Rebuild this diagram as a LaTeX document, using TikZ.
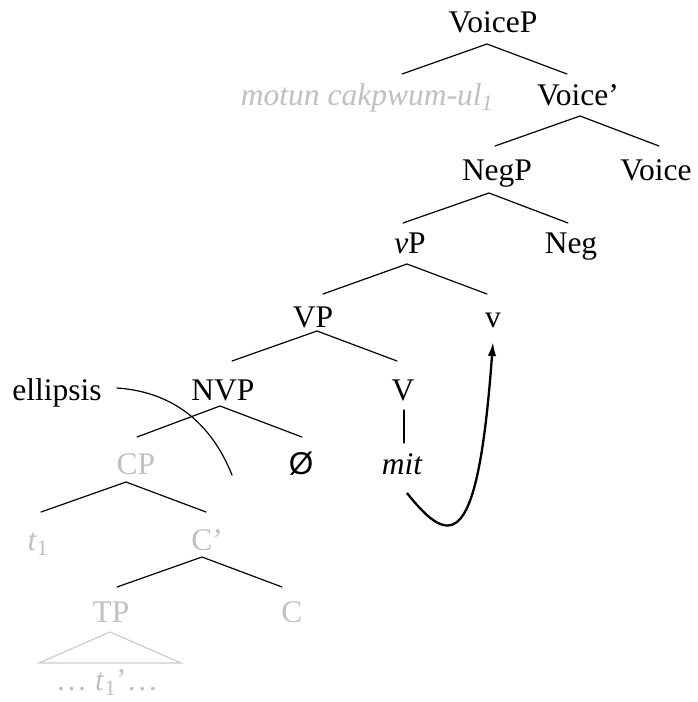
\documentclass[tikz,border=0pt]{standalone}
\usepackage{fontspec}
\setmainfont{Liberation Serif}
\newfontfamily\sansf{Liberation Sans}
\usetikzlibrary{arrows.meta}
\definecolor{txtgray}{RGB}{192,192,192}
\definecolor{trigray}{RGB}{204,204,204}
\begin{document}
\begin{tikzpicture}[x=1pt,y=-1pt,
  lab/.style={anchor=base,inner sep=0pt,font=\fontsize{31.5}{36}\selectfont},
  glab/.style={lab,text=txtgray},
  branch/.style={line width=1.2pt,line cap=round},
  tri/.style={line width=1.2pt,draw=trigray,line join=miter},
  move/.style={line width=2.3pt,-{Latex[length=14pt,width=8.5pt]}},
]
\useasboundingbox (0,0) rectangle (697,702);
% labels
\node[lab]  (VoiceP) at (493,32)  {VoiceP};
\node[glab] (subj)   at (367,105) {\itshape motun cakpwum-ul\textsubscript{1}};
\node[lab]  (Voicebar) at (578,105) {Voice’};
\node[lab]  (NegP)   at (497,180) {NegP};
\node[lab]  (Voice)  at (656,180) {Voice};
\node[lab]  (vP)     at (410,253) {\textit{v}P};
\node[lab]  (Neg)    at (571,253) {Neg};
\node[lab]  (VP)     at (313,327) {VP};
\node[lab]  (v)      at (493,327) {v};
\node[lab]  (ellipsis) at (57,400) {ellipsis};
\node[lab]  (NVP)    at (223,400) {NVP};
\node[lab]  (V)      at (403,400) {V};
\node[glab] (CP)     at (136,474) {CP};
\node[lab]  (null)   at (301,474) {\sansf Ø};
\node[lab]  (mit)    at (402,474) {\itshape mit};
\node[glab] (t1)     at (38,550)  {\textit{t}\textsubscript{1}};
\node[glab] (Cbar)   at (207,550) {C’};
\node[glab] (TP)     at (111,622) {TP};
\node[glab] (C)      at (292,622) {C};
\node[glab] (dots)   at (107,690) {… \textit{t}\textsubscript{1}’…};
% branch points
\coordinate (VoicePa) at (487,44);  \coordinate (VoicePl) at (402,74);  \coordinate (VoicePr) at (567,74);
\coordinate (Voicebara) at (580,116); \coordinate (Voicebarl) at (495,146); \coordinate (Voicebarr) at (659,146);
\coordinate (NegPa) at (489,193); \coordinate (NegPl) at (403,223); \coordinate (NegPr) at (568,223);
\coordinate (vPa) at (407,264); \coordinate (vPl) at (323,294); \coordinate (vPr) at (487,294);
\coordinate (VPa) at (317,331); \coordinate (VPl) at (232,361); \coordinate (VPr) at (397,361);
\coordinate (NVPa) at (220,406); \coordinate (NVPl) at (137,437); \coordinate (NVPr) at (302,437);
\coordinate (Va) at (404,410); \coordinate (Vb) at (404,443);
\coordinate (CPa) at (126,482); \coordinate (CPl) at (41,512); \coordinate (CPr) at (206,512);
\coordinate (Cbara) at (202,557); \coordinate (Cbarl) at (117,587); \coordinate (Cbarr) at (282,587);
\coordinate (TPa) at (110,632); \coordinate (TPl) at (39,663); \coordinate (TPr) at (181,663);
\coordinate (ellA) at (117,388); \coordinate (ellB) at (232,475);
\coordinate (movA) at (407,493); \coordinate (movB) at (493,342);
% branches
\draw[branch] (VoicePl) -- (VoicePa) -- (VoicePr);
\draw[branch] (Voicebarl) -- (Voicebara) -- (Voicebarr);
\draw[branch] (NegPl) -- (NegPa) -- (NegPr);
\draw[branch] (vPl) -- (vPa) -- (vPr);
\draw[branch] (VPl) -- (VPa) -- (VPr);
\draw[branch] (NVPl) -- (NVPa) -- (NVPr);
\draw[branch] (Va) -- (Vb);
\draw[branch] (CPl) -- (CPa) -- (CPr);
\draw[branch] (Cbarl) -- (Cbara) -- (Cbarr);
\draw[tri] (TPa) -- (TPl) -- (TPr) -- cycle;
% ellipsis pointer
\draw[branch] (ellA) .. controls (175,392) and (212,425) .. (ellB);
% head movement
\draw[move] (movA) .. controls (452,550) and (478,548) .. (movB);
\end{tikzpicture}
\end{document}
